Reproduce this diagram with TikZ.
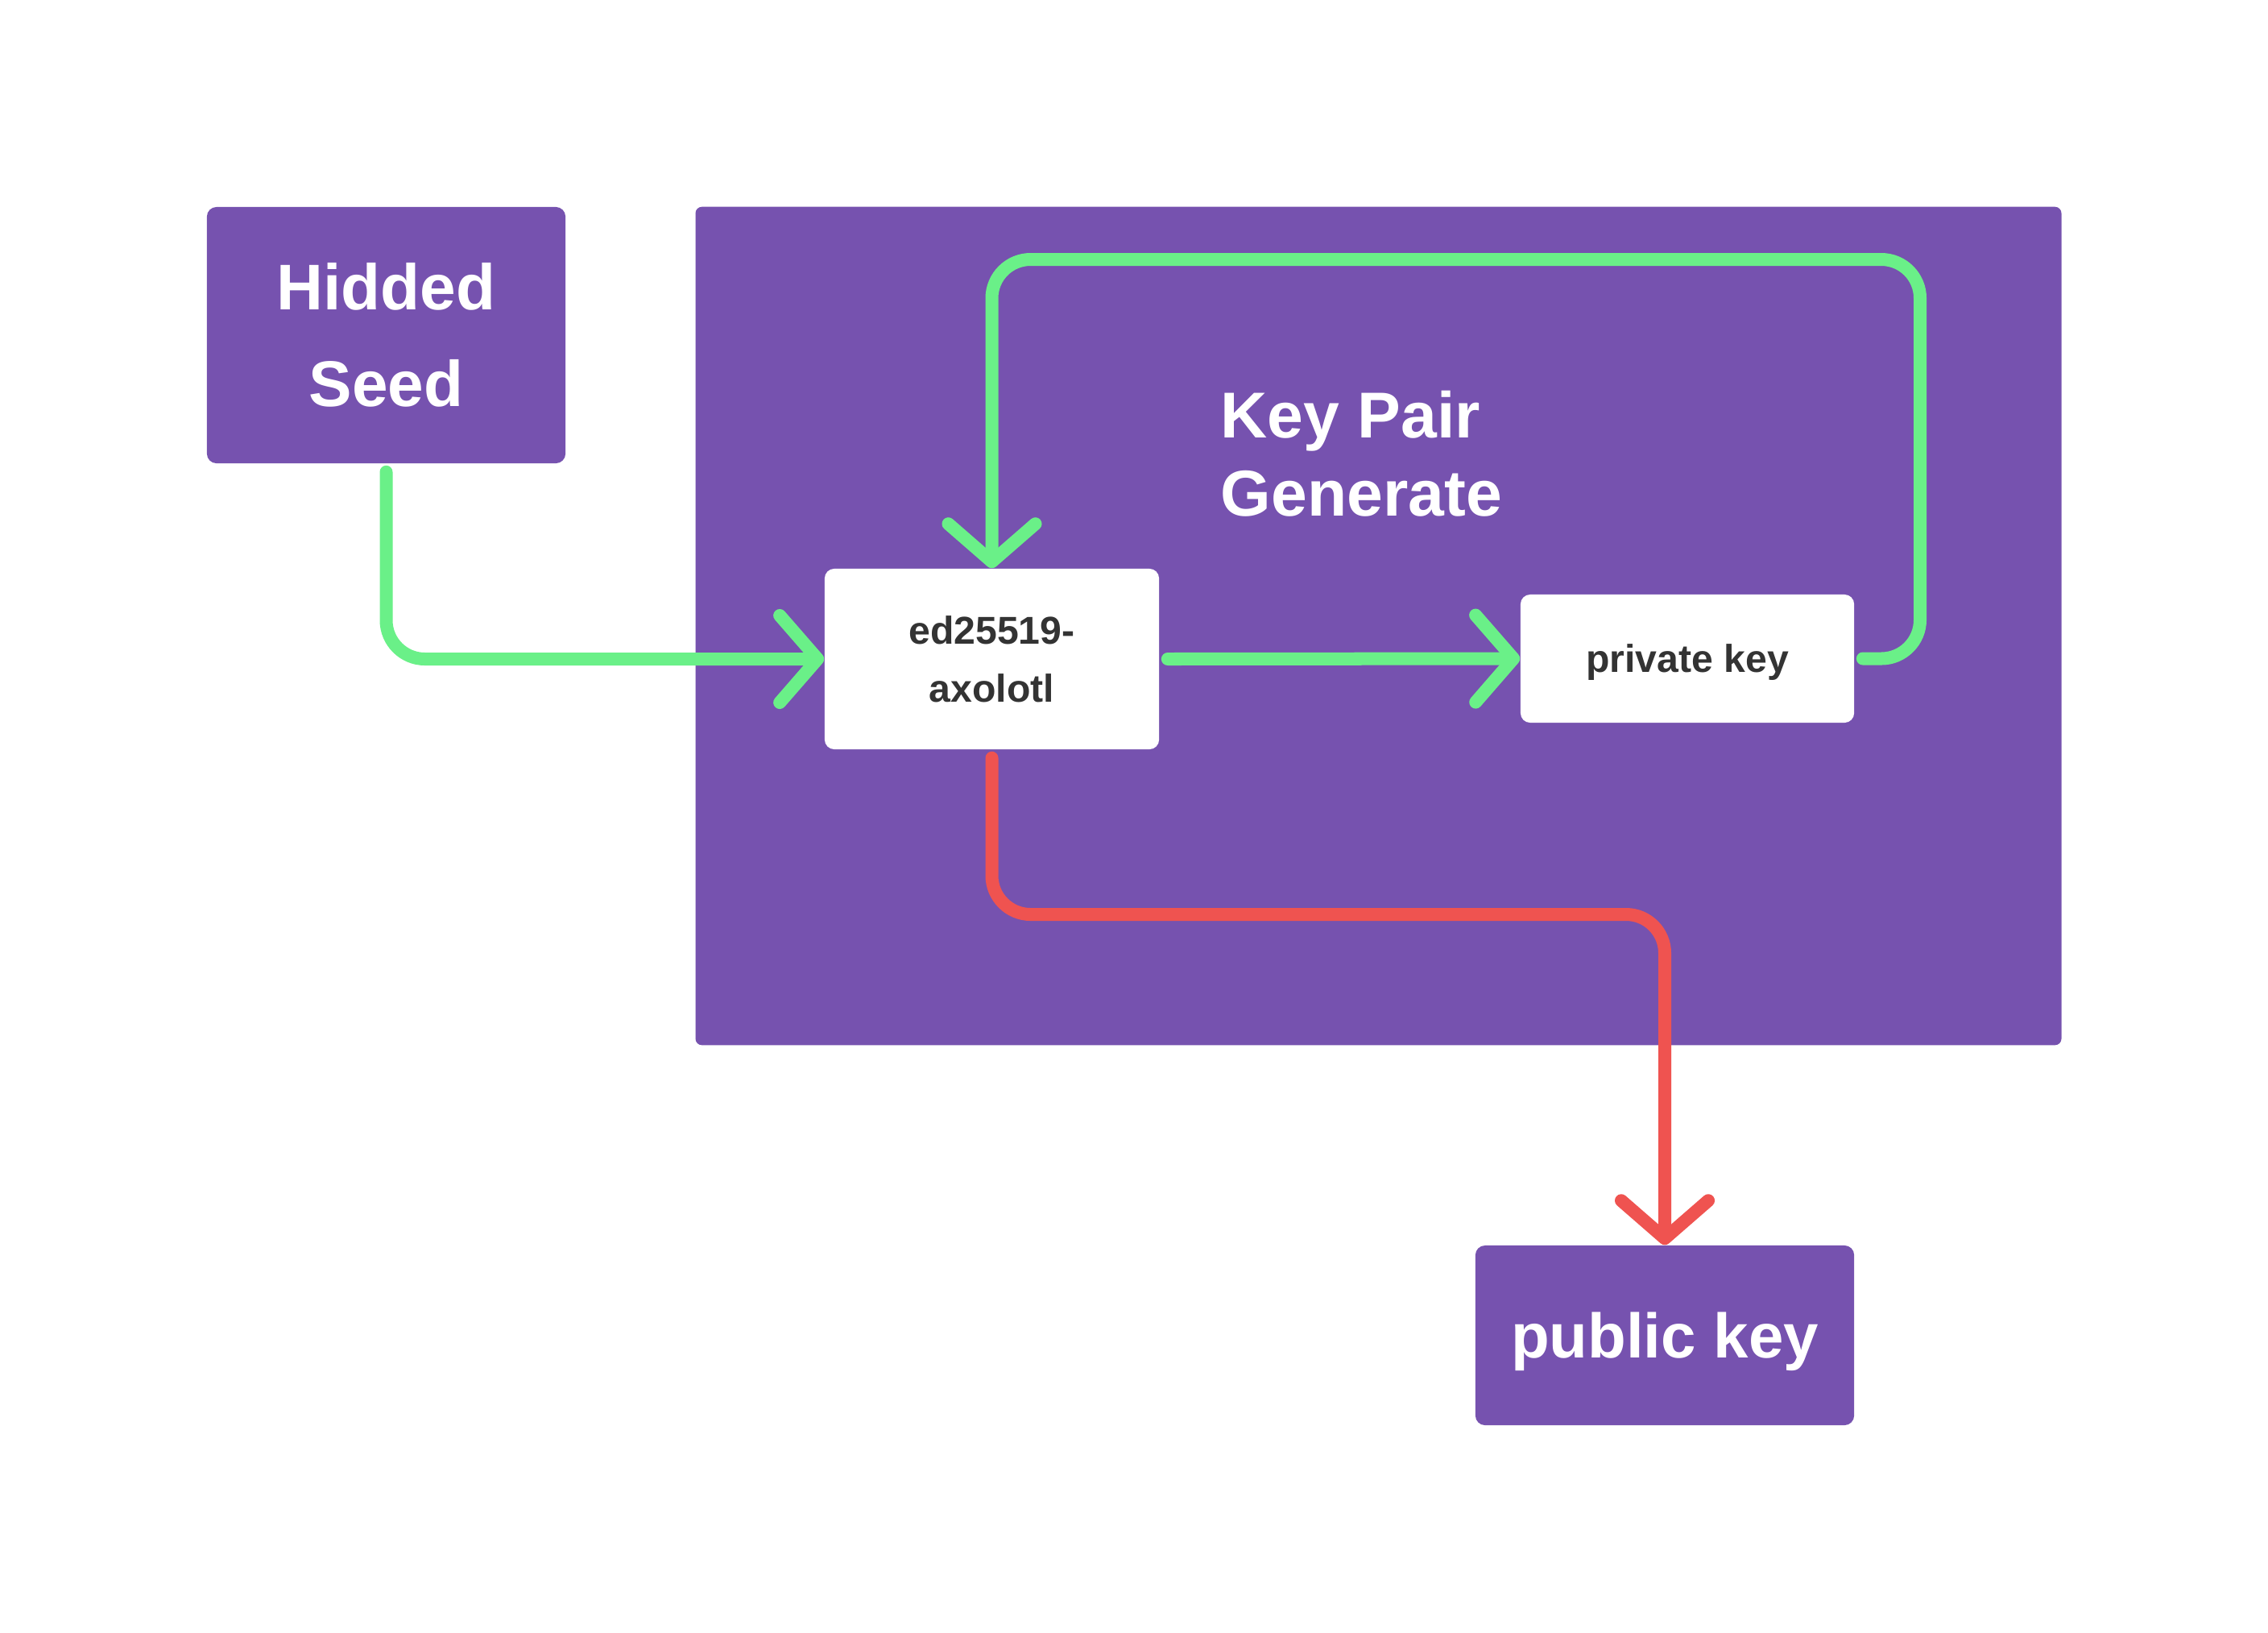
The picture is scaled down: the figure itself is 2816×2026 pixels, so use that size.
\documentclass[tikz,border=0pt]{standalone}
\usepackage{fontspec}
\setmainfont{Liberation Sans}
\usetikzlibrary{arrows.meta}
\definecolor{kpurple}{HTML}{7652AF}
\definecolor{kgreen}{HTML}{6AF088}
\definecolor{kred}{HTML}{EF5350}
\definecolor{kdark}{HTML}{333333}
\begin{document}
\begin{tikzpicture}[x=0.01cm,y=-0.01cm,
  bigfont/.style={font=\bfseries\fontsize{22.8pt}{34.1pt}\selectfont},
  smallfont/.style={font=\bfseries\fontsize{13.7pt}{20.5pt}\selectfont},
  purplebox/.style={fill=kpurple, rounded corners=0.12cm, inner sep=0pt, text=white, align=center, bigfont},
  whitebox/.style={fill=white, rounded corners=0.12cm, inner sep=0pt, text=kdark, align=center, smallfont},
  flowline/.style={line width=0.16cm, line cap=round, line join=round, rounded corners=0.48cm,
    -{Straight Barb[length=0.47cm,width=1.08cm,line cap=round,line join=round]}},
  greenflow/.style={flowline, draw=kgreen},
  redflow/.style={flowline, draw=kred}]
\useasboundingbox (0,0) rectangle (2816,2026);
\fill[white] (0,0) rectangle (2816,2026);
% containers and boxes
\node[fill=kpurple, rounded corners=0.08cm, minimum width=16.95cm, minimum height=10.40cm, inner sep=0pt] (outer) at (1711.5,777) {};
\node[purplebox, minimum width=4.45cm, minimum height=3.18cm] (seed) at (479.5,416) {Hidded\\Seed};
\node[text=white, align=left, inner sep=0pt, anchor=west, font=\bfseries\fontsize{22.9pt}{27.6pt}\selectfont] (title) at (1515,563.5) {Key Pair\\Generate};
\node[whitebox, minimum width=4.15cm, minimum height=2.24cm] (ed) at (1231.5,818) {ed25519-\\axolotl};
\node[whitebox, minimum width=4.14cm, minimum height=1.59cm, text depth=0pt] (priv) at (2095,817.5) {private key};
\node[purplebox, minimum width=4.70cm, minimum height=2.23cm, text depth=0pt, font=\bfseries\fontsize{22.2pt}{26pt}\selectfont] (pub) at (2067,1657.5) {public key};
% helper coordinates
\coordinate (loopcorner) at (2384,322);
\coordinate (redturn) at (2067,1135);
% connectors
\draw[greenflow, shorten <=0.1cm] (seed.south) |- (ed.west);
\draw[greenflow, shorten <=0.1cm] (ed.east) -- (priv.west);
\draw[greenflow, shorten <=0.1cm] (priv.east) -| (loopcorner) -| (ed.north);
\draw[redflow, shorten <=0.1cm] (ed.south) |- (redturn) -- (pub.north);
\end{tikzpicture}
\end{document}
